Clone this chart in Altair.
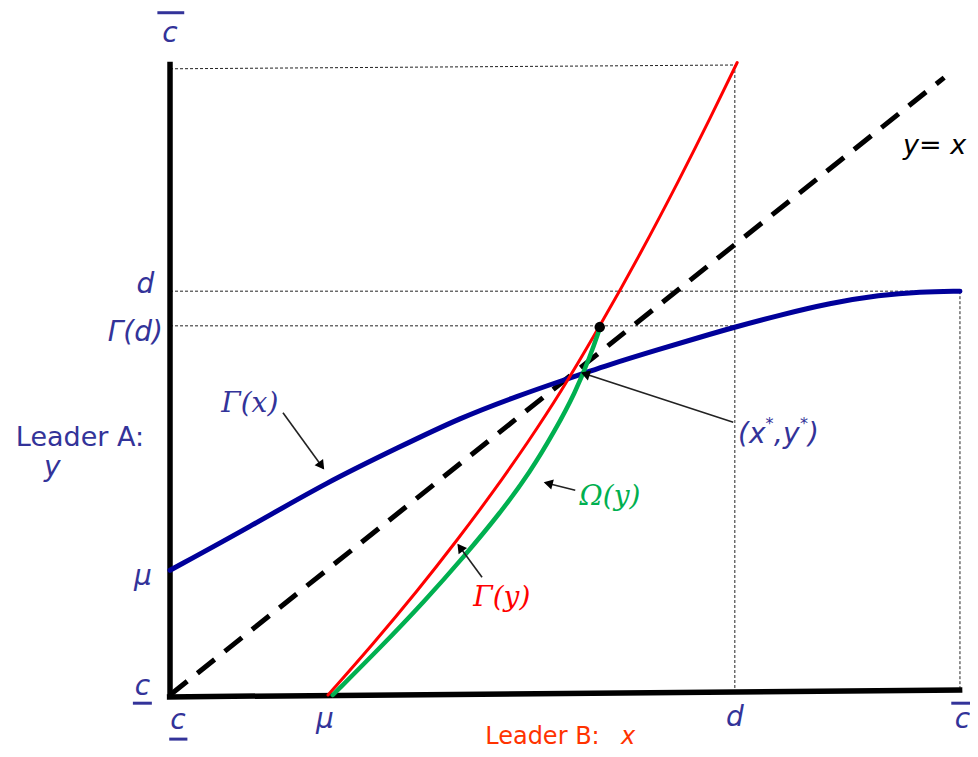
import math
import altair as alt
import pandas as pd

# ---------------- data (units: c = 0, c-bar = 1 on both axes) ----------------
MU = 0.2
D_X = 0.715      # d on the x axis
D_Y = 0.641      # d on the y axis
GAMMA_D = 0.586  # Γ(d)
TOP = 1.0

# Γ(x): leader A's response (blue)
gx_x = [0.0, 0.101, 0.199, 0.291, 0.367, 0.443, 0.494, 0.557, 0.620, 0.671, 0.715,
        0.772, 0.835, 0.899, 0.949, 1.0]
gx_y = [0.198, 0.267, 0.338, 0.394, 0.440, 0.476, 0.498, 0.525, 0.549, 0.568, 0.584,
        0.603, 0.622, 0.635, 0.640, 0.641]

# Γ(y): leader B's response (red)
gy_x = [0.200, 0.257, 0.313, 0.363, 0.409, 0.453, 0.494, 0.544, 0.595, 0.646, 0.684, 0.718]
gy_y = [0.000, 0.081, 0.165, 0.245, 0.322, 0.401, 0.479, 0.585, 0.699, 0.821, 0.916, 1.004]

# Ω(y) (green)
om_x = [0.206, 0.266, 0.323, 0.373, 0.418, 0.456, 0.487, 0.513, 0.532, 0.544]
om_y = [0.000, 0.075, 0.150, 0.221, 0.289, 0.354, 0.419, 0.480, 0.538, 0.582]

# point where Ω meets Γ(y)
dot_x = [0.544]
dot_y = [0.584]

# 45-degree line
diag_x = [0.0, 0.98]
diag_y = [0.0, 0.98]

# ---------------- layout helpers ----------------
PX_X, PX_Y = 790.0, 630.0          # pixels per unit
X0, X1 = -0.2051, 1.0127
Y0, Y1 = -0.0857, 1.0905
W, H = 962, 741

xs = alt.Scale(domain=[X0, X1], nice=False, zero=False)
ys = alt.Scale(domain=[Y0, Y1], nice=False, zero=False)

BLUE_TXT = "#333399"


def X(f="x"):
    return alt.X(f"{f}:Q", scale=xs, axis=None)


def Y(f="y"):
    return alt.Y(f"{f}:Q", scale=ys, axis=None)


def line(xv, yv, color, width, dash=None):
    df = pd.DataFrame({"x": xv, "y": yv, "i": range(len(xv))})
    kw = dict(color=color, strokeWidth=width, interpolate="basis", strokeCap="round")
    if dash:
        kw.update(strokeDash=dash, strokeCap="butt", interpolate="linear")
    return alt.Chart(df).mark_line(**kw).encode(x=X(), y=Y(), order="i:Q")


def segs(rows, color, width, dash=None):
    df = pd.DataFrame(rows, columns=["x", "y", "x2", "y2"])
    kw = dict(color=color, strokeWidth=width)
    if dash:
        kw["strokeDash"] = dash
    return alt.Chart(df).mark_rule(**kw).encode(
        x=X(), y=Y(), x2="x2:Q", y2="y2:Q")


def texts(rows, color, size, font="DejaVu Sans", style="normal", align="center", base="middle"):
    df = pd.DataFrame(rows, columns=["x", "y", "t"])
    return alt.Chart(df).mark_text(
        color=color, fontSize=size, font=font, fontStyle=style,
        align=align, baseline=base).encode(x=X(), y=Y(), text="t:N")


# ---------------- layers ----------------
guides = segs([
    [0.0, 0.994, D_X, TOP],
    [D_X, TOP, D_X, 0.011],
    [0.0, D_Y, 1.0, D_Y],
    [1.0, D_Y, 1.0, 0.008],
    [0.0, GAMMA_D, D_X, GAMMA_D],
], "#222222", 1, dash=[3, 2])

axes = segs([
    [0.0, -0.004, 0.0, 1.005],
    [-0.004, -0.003, 1.003, 0.008],
], "black", 5.5)

diag = line(diag_x, diag_y, "black", 5, dash=[22, 13])
blue = line(gx_x, gx_y, "#00009A", 5)
red = line(gy_x, gy_y, "#FF0000", 3)
green = line(om_x, om_y, "#00B050", 4.5)

dot = alt.Chart(pd.DataFrame({"x": dot_x, "y": dot_y})).mark_point(
    filled=True, color="black", size=110, opacity=1).encode(x=X(), y=Y())

# arrows: tail -> tip
arrows = [
    [0.143, 0.448, 0.194, 0.360],
    [0.713, 0.433, 0.522, 0.511],
    [0.513, 0.325, 0.475, 0.337],
    [0.395, 0.187, 0.365, 0.238],
]
arrow_lines = segs(arrows, "#222222", 1.6)
heads = []
for tx, ty, hx, hy in arrows:
    dxp = (hx - tx) * PX_X
    dyp = -(hy - ty) * PX_Y
    ln = math.hypot(dxp, dyp)
    ang = math.degrees(math.atan2(dxp, -dyp)) % 360
    back = 4.5
    cx = hx - dxp / ln * back / PX_X
    cy = hy + dyp / ln * back / PX_Y
    heads.append({"x": cx, "y": cy, "a": ang})
head_layer = alt.Chart(pd.DataFrame(heads)).mark_point(
    shape="triangle", filled=True, color="black", size=110, opacity=1).encode(
    x=X(), y=Y(), angle=alt.Angle("a:Q", scale=None))

# bars over / under the c labels
bars = segs([
    [-0.016, 1.083, 0.018, 1.083],
    [0.989, -0.013, 1.018, -0.013],
    [-0.047, -0.013, -0.023, -0.013],
    [-0.001, -0.070, 0.022, -0.070],
], BLUE_TXT, 3)

blue_italic = texts([
    [0.0, 1.050, "c"],
    [0.010, -0.042, "c"],
    [-0.035, 0.012, "c"],
    [1.003, -0.040, "c"],
    [0.196, -0.040, "μ"],
    [0.715, -0.036, "d"],
    [-0.149, 0.361, "y"],
], BLUE_TXT, 28, style="italic")

gamma_x = texts([[0.101, 0.462, "Γ(x)"]], BLUE_TXT, 28, font="DejaVu Serif", style="italic")

blue_right = texts([
    [-0.020, 0.651, "d"],
    [-0.009, 0.575, "Γ(d)"],
    [-0.023, 0.188, "μ"],
], BLUE_TXT, 28, style="italic", align="right")

leader_a = texts([[-0.114, 0.408, "Leader A:"]], BLUE_TXT, 27)

# (x*,y*) built from pieces
ax0, ay0 = 0.719, 0.413
pieces = [("(x", 0, 28), ("*", 27.5, 16), (",y", 36, 28), ("*", 62, 16), (")", 70, 28)]
big = [[ax0 + off / PX_X, ay0, t] for t, off, s in pieces if s == 28]
small = [[ax0 + off / PX_X, ay0 + 11 / PX_Y, t] for t, off, s in pieces if s == 16]
xy_big = texts(big, BLUE_TXT, 28, style="italic", align="left")
xy_small = texts(small, BLUE_TXT, 16, style="italic", align="left")

omega = texts([[0.557, 0.314, "Ω(y)"]], "#00B050", 28, font="DejaVu Serif", style="italic")
gamma_y = texts([[0.420, 0.154, "Γ(y)"]], "#FF0000", 28, font="DejaVu Serif", style="italic")

yx = texts([[0.968, 0.871, "y= x"]], "black", 27, style="italic")

leader_b = texts([[0.399, -0.0778, "Leader B:"]], "#FF3300", 24, align="left", base="alphabetic")
leader_b_x = texts([[0.580, -0.0778, "x"]], "#FF3300", 24, style="italic", base="alphabetic")

chart = alt.layer(
    guides, axes, diag, blue, red, green, dot, arrow_lines, head_layer,
    bars, blue_italic, gamma_x, blue_right, leader_a, xy_big, xy_small,
    omega, gamma_y, yx, leader_b, leader_b_x,
).properties(
    width=W, height=H, padding=0,
    autosize=alt.AutoSizeParams(type="none"),
    background="white",
).configure_view(stroke=None)

chart.save("out.html", embed_options={"renderer": "svg", "actions": False})
